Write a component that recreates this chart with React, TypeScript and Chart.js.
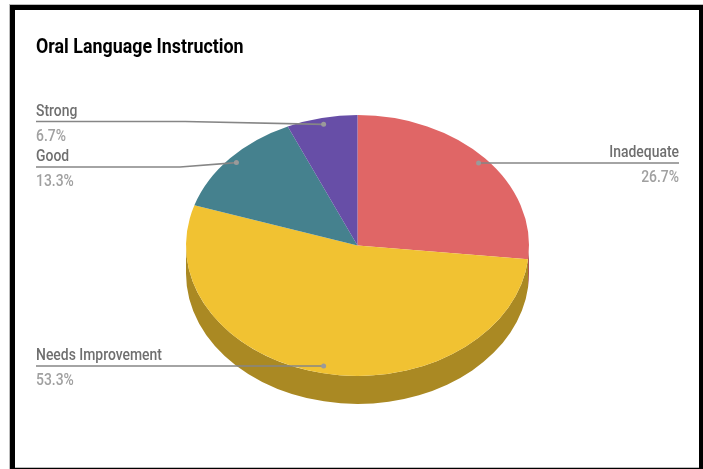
import { useEffect, useRef } from "react";
import { Chart, registerables } from "chart.js";

Chart.register(...registerables);

const categories = ["Inadequate", "Needs Improvement", "Good", "Strong"];
const responses = [4, 8, 2, 1];
const sliceColors = ["#e06666", "#f1c232", "#45818e", "#674ea7"];
const sideColors = ["#a84d4d", "#aa8923", "#315b64", "#493776"];
const chartTitle = "Oral Language Instruction";

const TILT = 130 / 171;
const DEPTH = 28;
const FONT = "Roboto, sans-serif";

// Narrowed text: the font is drawn tall, then squeezed horizontally.
function squeezedText(ctx: any, text: string, x: number, y: number, font: string, sx: number, color: string, align: string) {
  ctx.save();
  ctx.translate(x, y);
  ctx.scale(sx, 1);
  ctx.font = font;
  ctx.fillStyle = color;
  ctx.textAlign = align;
  ctx.textBaseline = "alphabetic";
  ctx.fillText(text, 0, 0);
  ctx.restore();
}

const piePlugin = {
  id: "tiltedPie",
  beforeDatasetsDraw(chart: any) {
    const ctx = chart.ctx;
    const arcs = chart.getDatasetMeta(0).data;
    const { x: cx, y: cy } = arcs[0];
    const r = arcs[0].outerRadius;
    const ry = r * TILT;
    // Side wall of the disc, only where a slice faces the viewer.
    arcs.forEach((arc: any, i: number) => {
      const a0 = Math.max(arc.startAngle, -0.0001);
      const a1 = Math.min(arc.endAngle, Math.PI);
      if (a1 <= a0) return;
      ctx.save();
      ctx.beginPath();
      ctx.ellipse(cx, cy, r, ry, 0, a0, a1);
      ctx.ellipse(cx, cy + DEPTH, r, ry, 0, a1, a0, true);
      ctx.closePath();
      ctx.fillStyle = sideColors[i];
      ctx.fill();
      ctx.restore();
    });
    // Squash the top face of the disc into an ellipse.
    ctx.save();
    ctx.translate(cx, cy);
    ctx.scale(1, TILT);
    ctx.translate(-cx, -cy);
  },
  afterDatasetsDraw(chart: any) {
    const ctx = chart.ctx;
    ctx.restore();
    const arcs = chart.getDatasetMeta(0).data;
    const total = responses.reduce((s, v) => s + v, 0);
    const { x: cx, y: cy } = arcs[0];
    const r = arcs[0].outerRadius;
    const right = chart.width - 24;
    const left = 36;

    squeezedText(ctx, chartTitle, left, 53, `bold 21px ${FONT}`, 0.85, "#000000", "left");

    // Leader rows: line height, elbow x, per slice.
    const rows = [
      { lineY: 163, elbow: null },
      { lineY: 366, elbow: null },
      { lineY: 167, elbow: 180 },
      { lineY: 121.5, elbow: 185 },
    ];
    arcs.forEach((arc: any, i: number) => {
      const mid = (arc.startAngle + arc.endAngle) / 2;
      const dx = cx + Math.cos(mid) * r * 0.95;
      const dy = cy + Math.sin(mid) * r * 0.95 * TILT;
      const onRight = Math.cos(mid) > 0 && dx > cx;
      const { lineY, elbow } = rows[i];
      ctx.save();
      ctx.strokeStyle = "#868686";
      ctx.lineWidth = 1.6;
      ctx.beginPath();
      ctx.moveTo(onRight ? right : left, lineY);
      if (elbow !== null) ctx.lineTo(elbow, lineY);
      ctx.lineTo(dx, elbow !== null ? dy : lineY);
      ctx.stroke();
      ctx.fillStyle = "#9a9a9a";
      ctx.beginPath();
      ctx.arc(dx, elbow !== null ? dy : lineY, 2.5, 0, Math.PI * 2);
      ctx.fill();
      ctx.restore();

      const align = onRight ? "right" : "left";
      const tx = onRight ? right : left;
      const font = `500 16px ${FONT}`;
      squeezedText(ctx, categories[i], tx, lineY - 6, font, 0.87, "#6f6f6f", align);
      const pct = ((responses[i] / total) * 100).toFixed(1) + "%";
      squeezedText(ctx, pct, tx, lineY + 19, font, 0.87, "#a0a0a0", align);
    });
  },
};

const framePlugin = {
  id: "outerFrame",
  beforeDraw(chart: any) {
    const ctx = chart.ctx;
    ctx.save();
    ctx.fillStyle = "#ffffff";
    ctx.fillRect(0, 0, chart.width, chart.height);
    ctx.fillStyle = "#bdbdbd";
    ctx.fillRect(9, 4, chart.width - 9, chart.height - 4);
    ctx.fillStyle = "#000000";
    ctx.fillRect(10, 5, chart.width - 10, chart.height - 5);
    ctx.fillStyle = "#bdbdbd";
    ctx.fillRect(15, 10, 684, 458);
    ctx.fillStyle = "#ffffff";
    ctx.fillRect(15, 10, 684, 457);
    ctx.restore();
  },
};

export default function App() {
  const ref = useRef<HTMLCanvasElement>(null);
  useEffect(() => {
    document.body.style.margin = "0";
    const chart = new Chart(ref.current!, {
      type: "pie",
      data: {
        labels: categories,
        datasets: [{ data: responses, backgroundColor: sliceColors, borderWidth: 0 }],
      },
      options: {
        responsive: false,
        animation: false,
        layout: { padding: { left: 186, right: 174, top: 74, bottom: 52 } },
        plugins: { legend: { display: false }, tooltip: { enabled: false } },
      },
      plugins: [framePlugin, piePlugin],
    });
    return () => chart.destroy();
  }, []);
  return <canvas ref={ref} width={703} height={469} style={{ display: "block" }} />;
}
